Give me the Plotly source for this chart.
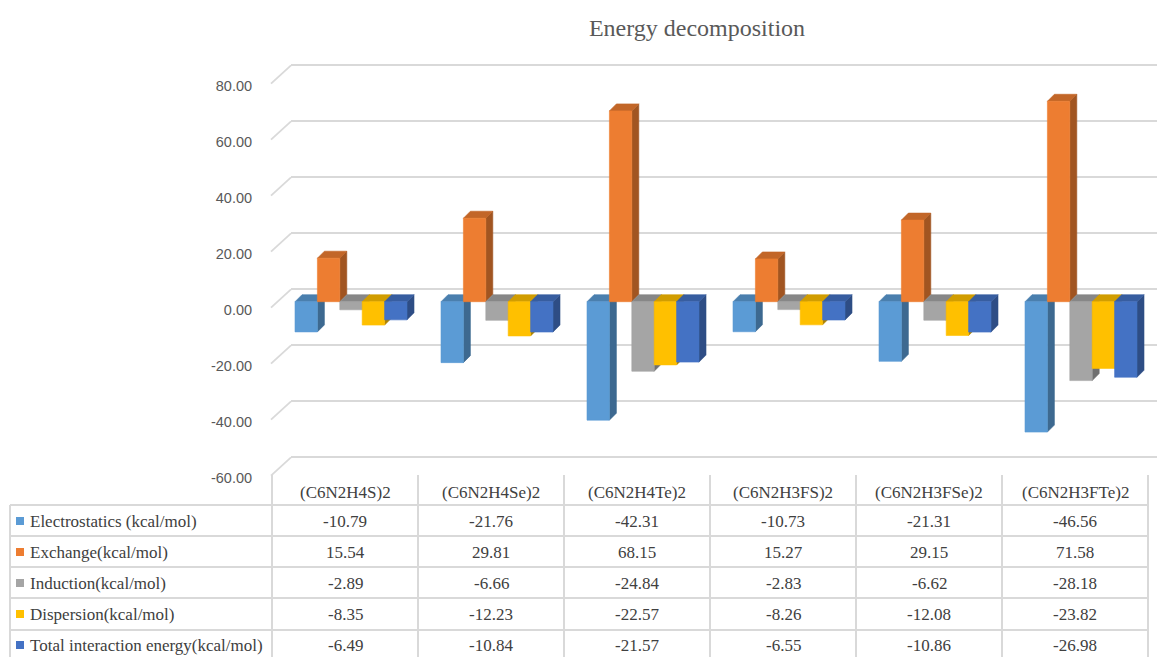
import plotly.graph_objects as go

# ---- data -------------------------------------------------------------
categories = ["(C6N2H4S)2", "(C6N2H4Se)2", "(C6N2H4Te)2",
              "(C6N2H3FS)2", "(C6N2H3FSe)2", "(C6N2H3FTe)2"]
series_names = ["Electrostatics (kcal/mol)", "Exchange(kcal/mol)",
                "Induction(kcal/mol)", "Dispersion(kcal/mol)",
                "Total interaction energy(kcal/mol)"]
electrostatics = [-10.79, -21.76, -42.31, -10.73, -21.31, -46.56]
exchange = [15.54, 29.81, 68.15, 15.27, 29.15, 71.58]
induction = [-2.89, -6.66, -24.84, -2.83, -6.62, -28.18]
dispersion = [-8.35, -12.23, -22.57, -8.26, -12.08, -23.82]
total = [-6.49, -10.84, -21.57, -6.55, -10.86, -26.98]
y_ticks = [80, 60, 40, 20, 0, -20, -40, -60]

series = [electrostatics, exchange, induction, dispersion, total]
colors = ["#5B9BD5", "#ED7D31", "#A5A5A5", "#FFC000", "#4472C4"]

# ---- page geometry (pixels) ------------------------------------------
W, H = 1157, 657
PLOT_TOP, PLOT_BOT = 55, 485
PPU = 2.8                     # pixels per kcal/mol
COL_L, COL_R = 272, 1148      # category columns
COL_W = (COL_R - COL_L) / len(categories)
SERIF = "Liberation Serif"


def fx(px):
    return px / W


def fy(py):
    return 1 - py / H


def y_range(zero_px):
    return [(zero_px - PLOT_BOT) / PPU, (zero_px - PLOT_TOP) / PPU]


def shade(hex_color, k):
    h = hex_color.lstrip("#")
    r, g, b = (int(h[i:i + 2], 16) for i in (0, 2, 4))
    return "#%02x%02x%02x" % (int(r * k), int(g * k), int(b * k))


y_dom = [fy(PLOT_BOT), fy(PLOT_TOP)]

# bar geometry in axis units of the bar subplot
bar_w = 22.4 / COL_W
group_shift = 6 / COL_W
depth_x = 7 / COL_W
depth_y = 7 / PPU

fig = go.Figure()

# subplot 1: back wall gridlines
fig.add_trace(go.Scatter(x=[0.5], y=[0], mode="markers", marker=dict(opacity=0),
                         hoverinfo="skip", showlegend=False, xaxis="x", yaxis="y"))

# subplot 2: 3-D style bars built as filled faces
for s, (vals, col) in enumerate(zip(series, colors)):
    front_x, front_y, top_x, top_y, side_x, side_y = [], [], [], [], [], []
    for i, v in enumerate(vals):
        x0 = i + group_shift + (s - 2.5) * bar_w
        x1 = x0 + bar_w
        hi, lo = max(v, 0), min(v, 0)
        front_x += [x0, x1, x1, x0, x0, None]
        front_y += [lo, lo, hi, hi, lo, None]
        top_x += [x0, x0 + depth_x, x1 + depth_x, x1, x0, None]
        top_y += [hi, hi + depth_y, hi + depth_y, hi, hi, None]
        side_x += [x1, x1 + depth_x, x1 + depth_x, x1, x1, None]
        side_y += [hi, hi + depth_y, lo + depth_y, lo, hi, None]
    for xs, ys, c in ((side_x, side_y, shade(col, 0.68)),
                      (top_x, top_y, shade(col, 0.82)),
                      (front_x, front_y, col)):
        fig.add_trace(go.Scatter(x=xs, y=ys, mode="lines", fill="toself",
                                 fillcolor=c, line=dict(color=c, width=0.6),
                                 hoverinfo="skip", showlegend=False,
                                 xaxis="x2", yaxis="y2"))

# subplot 3: value axis labels
fig.add_trace(go.Scatter(x=[0.5], y=[0], mode="markers", marker=dict(opacity=0),
                         hoverinfo="skip", showlegend=False, xaxis="x3", yaxis="y3"))

GRID = "#d9d9d9"
shapes = []
# slanted side-wall gridline segments
for v in y_ticks:
    shapes.append(dict(type="line", xref="paper", yref="y",
                       x0=fx(271), y0=v - 18.3 / PPU, x1=fx(291), y1=v,
                       line=dict(color=GRID, width=1.8), layer="below"))

# data table grid
ROW_LINES = [505, 536, 567, 598, 630]
for yl in ROW_LINES:
    shapes.append(dict(type="line", xref="paper", yref="paper",
                       x0=fx(10), x1=fx(COL_R), y0=fy(yl), y1=fy(yl),
                       line=dict(color=GRID, width=2)))
shapes.append(dict(type="line", xref="paper", yref="paper",
                   x0=fx(10), x1=fx(10), y0=fy(505), y1=fy(H + 5),
                   line=dict(color=GRID, width=2)))
for k in range(len(categories) + 1):
    xk = COL_L + k * COL_W
    shapes.append(dict(type="line", xref="paper", yref="paper",
                       x0=fx(xk), x1=fx(xk), y0=fy(475), y1=fy(H + 5),
                       line=dict(color=GRID, width=2)))

TXT = dict(family=SERIF, size=17, color="#404040")
annotations = []
for i, c in enumerate(categories):
    annotations.append(dict(x=i, y=fy(492), xref="x2", yref="paper", text=c,
                            showarrow=False, font=dict(TXT),
                            xanchor="center", yanchor="middle"))

ROW_CENTERS = [521, 552, 583, 614, 645]
for r, (name, vals, col) in enumerate(zip(series_names, series, colors)):
    yc = ROW_CENTERS[r]
    shapes.append(dict(type="rect", xref="paper", yref="paper",
                       x0=fx(16), x1=fx(24), y0=fy(yc + 4), y1=fy(yc - 4),
                       fillcolor=col, line=dict(width=0)))
    annotations.append(dict(x=fx(28), y=fy(yc), xref="paper", yref="paper", text=name,
                            showarrow=False, font=dict(TXT),
                            xanchor="left", yanchor="middle"))
    for i, v in enumerate(vals):
        annotations.append(dict(x=i, y=fy(yc), xref="x2", yref="paper", text=f"{v:.2f}",
                                showarrow=False, font=dict(TXT),
                                xanchor="center", yanchor="middle"))

fig.update_layout(
    width=W, height=H,
    margin=dict(l=0, r=0, t=0, b=0),
    paper_bgcolor="white", plot_bgcolor="rgba(0,0,0,0)",
    showlegend=False,
    font=dict(family=SERIF, color="#404040"),
    title=dict(text="Energy decomposition", x=fx(697), y=fy(28),
               xanchor="center", yanchor="middle",
               font=dict(family=SERIF, size=24, color="#595959")),
    xaxis=dict(domain=[fx(291), 1], range=[0, 1], visible=False, fixedrange=True),
    yaxis=dict(domain=y_dom, range=y_range(289.3), anchor="x",
               tickvals=y_ticks, showticklabels=False, ticks="",
               showgrid=True, gridcolor=GRID, gridwidth=1.8,
               zeroline=False, showline=False, fixedrange=True),
    xaxis2=dict(domain=[fx(COL_L), fx(COL_R)], range=[-0.5, 5.5], visible=False,
                anchor="y2", fixedrange=True),
    yaxis2=dict(domain=y_dom, range=y_range(301.7), anchor="x2", visible=False,
                fixedrange=True),
    xaxis3=dict(domain=[fx(COL_L), fx(COL_R)], range=[0, 1], visible=False,
                anchor="y3", fixedrange=True),
    yaxis3=dict(domain=y_dom, range=y_range(310), anchor="x3",
                tickvals=y_ticks, ticktext=[f"{v:.2f}" for v in y_ticks],
                ticks="outside", ticklen=16, tickcolor="rgba(0,0,0,0)",
                showgrid=False, zeroline=False, showline=False,
                tickfont=dict(family="Liberation Sans", size=14.5, color="#595959"),
                fixedrange=True),
    shapes=shapes,
    annotations=annotations,
)

fig.write_html("out.html")
